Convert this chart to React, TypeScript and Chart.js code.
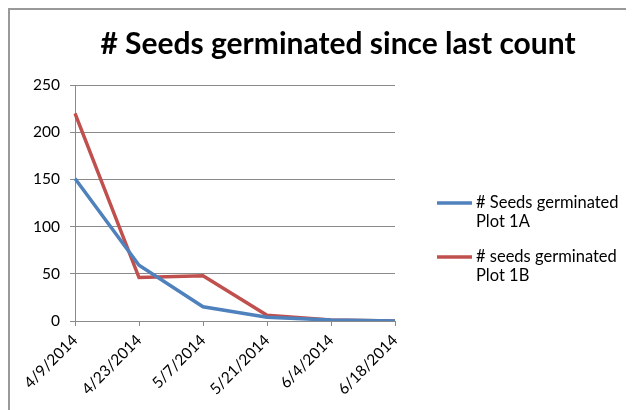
import React, { useEffect, useRef } from "react";
import { Chart, registerables } from "chart.js";

Chart.register(...registerables);

const titleText = "# Seeds germinated since last count";
const dates = ["4/9/2014", "4/23/2014", "5/7/2014", "5/21/2014", "6/4/2014", "6/18/2014"];
const plot1A = [151, 59, 15, 4, 1, 0];
const plot1B = [220, 46, 48, 6, 1, 0];
const labelA = ["# Seeds germinated", "Plot 1A"];
const labelB = ["# seeds germinated", "Plot 1B"];
const colorA = "#4F81BD";
const colorB = "#C0504D";
const FONT = "Lato, 'Open Sans', sans-serif";

const titlePlugin = {
  id: "customTitle",
  afterDraw(chart: any) {
    const ctx = chart.ctx;
    ctx.save();
    ctx.font = `bold 30px ${FONT}`;
    ctx.fillStyle = "#000";
    ctx.textAlign = "center";
    ctx.textBaseline = "alphabetic";
    ctx.fillText(titleText, 328, 44);
    ctx.restore();
  },
};

const legendPlugin = {
  id: "customLegend",
  afterDraw(chart: any) {
    const ctx = chart.ctx;
    ctx.save();
    ctx.font = `16.5px ${FONT}`;
    ctx.fillStyle = "#000";
    ctx.textBaseline = "alphabetic";
    const tops = [193, 247];
    chart.data.datasets.forEach((ds: any, i: number) => {
      const y = tops[i];
      ctx.strokeStyle = ds.borderColor;
      ctx.lineWidth = 3.5;
      ctx.beginPath();
      ctx.moveTo(427, y);
      ctx.lineTo(462, y);
      ctx.stroke();
      (ds.label as string[]).forEach((line, j) => {
        ctx.fillText(line, 466, y + 5 + j * 19);
      });
    });
    ctx.restore();
  },
};

export default function App() {
  const ref = useRef<HTMLCanvasElement>(null);
  useEffect(() => {
    const chart = new Chart(ref.current!, {
      type: "line",
      data: {
        labels: dates,
        datasets: [
          { label: labelA as any, data: plot1A, borderColor: colorA, backgroundColor: colorA, borderWidth: 3.5, pointRadius: 0, tension: 0 },
          { label: labelB as any, data: plot1B, borderColor: colorB, backgroundColor: colorB, borderWidth: 3.5, pointRadius: 0, tension: 0 },
        ],
      },
      options: {
        animation: false,
        responsive: false,
        layout: { padding: { top: 75, right: 239, left: 0, bottom: 0 } },
        plugins: { legend: { display: false }, title: { display: false }, tooltip: { enabled: false } },
        scales: {
          x: {
            offset: false,
            grid: { display: true, drawOnChartArea: false, drawTicks: true, tickLength: 5, color: "#8a8a8a" },
            border: { color: "#8a8a8a" },
            ticks: { color: "#000", font: { family: FONT, size: 15.5 }, minRotation: 45, maxRotation: 45, padding: 5, autoSkip: false },
            afterFit: (s: any) => { s.height = 89; },
          },
          y: {
            min: 0,
            max: 250,
            grid: { color: "#8a8a8a", tickLength: 5 },
            border: { color: "#8a8a8a" },
            ticks: { stepSize: 50, color: "#000", font: { family: FONT, size: 15.5 }, padding: 10 },
            afterFit: (s: any) => { s.width = 65; },
          },
        },
      },
      plugins: [titlePlugin, legendPlugin],
    });
    return () => chart.destroy();
  }, []);
  return (
    <div style={{ width: 624, height: 400, borderTop: "2px solid #999", borderLeft: "2px solid #999", overflow: "hidden" }}>
      <canvas ref={ref} width={624} height={400} style={{ display: "block" }} />
    </div>
  );
}
